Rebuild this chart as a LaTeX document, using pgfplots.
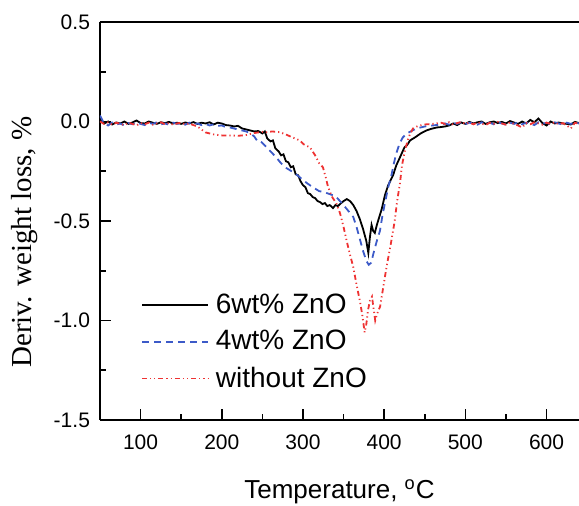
\documentclass[border=0pt]{standalone}
\usepackage{pgfplots}
\pgfplotsset{compat=1.18}
\usepackage{fontspec}
\setmainfont{Liberation Sans}
\newfontfamily\seriffont{Liberation Serif}
\usetikzlibrary{calc}
\definecolor{cblue}{RGB}{60,90,200}
\definecolor{cred}{RGB}{238,50,50}
\begin{document}
\begin{tikzpicture}
\begin{axis}[
  scale only axis, width=239.5pt, height=199pt,
  xmin=50, xmax=640, ymin=-1.5, ymax=0.5,
  axis x line*=box, axis y line*=left,
  xtick={100,200,...,600}, minor x tick num=1,
  ytick={-1.5,-1,...,0.5}, minor y tick num=1,
  xtick pos=bottom, ytick pos=left,
  tick align=inside, major tick length=5.5pt, minor tick length=3pt,
  axis line style={line width=0.9pt}, every tick/.style={line width=0.8pt, black},
  /pgf/number format/assume math mode=true,
  yticklabel style={/pgf/number format/fixed, /pgf/number format/fixed zerofill, /pgf/number format/precision=1, font=\fontsize{10.5}{12}\selectfont, xshift=-1.5pt},
  xticklabel style={font=\fontsize{10.5}{12}\selectfont, yshift=-4pt},
  xlabel={Temperature, \textsuperscript{o}C},
  xlabel style={font=\fontsize{13}{15}\selectfont, at={(axis description cs:0.5,-0.18)}, anchor=center},
  ylabel={\seriffont Deriv. weight loss, \%},
  ylabel style={font=\fontsize{14.5}{17}\selectfont, at={(axis description cs:-0.157,0.447)}, anchor=center},
  legend style={draw=none, fill=none, at={(axis description cs:0.085,0.328)}, anchor=north west, font=\fontsize{14}{16}\selectfont, row sep=3pt, inner sep=0pt,
    /tikz/every odd column/.append style={column sep=1.5pt}},
  legend cell align=left,
  legend image code/.code={\draw[#1] (0pt,0pt) -- (33pt,0pt);},
]
\addplot[black, line width=0.9pt] coordinates {
(50,0.01)(55,-0.01)(60,0.0)(65,-0.015)(70,-0.005)(75,-0.01)(80,0.0)(85,-0.012)(90,-0.005)(95,0.005)
(100,-0.008)(105,-0.01)(110,0.0)(115,-0.006)(120,-0.012)(125,-0.004)(130,-0.008)(135,-0.002)(140,-0.01)(145,-0.006)
(150,-0.012)(155,-0.005)(160,-0.01)(165,-0.003)(170,-0.012)(175,-0.006)(180,-0.01)(185,-0.004)(190,-0.015)(195,-0.006)
(200,-0.01)(205,-0.018)(210,-0.02)(215,-0.025)(220,-0.022)(225,-0.035)(230,-0.04)(235,-0.045)(240,-0.05)(245,-0.048)
(250,-0.06)(253,-0.05)(256,-0.085)(260,-0.1)(263,-0.095)(266,-0.135)(270,-0.15)(273,-0.17)(276,-0.165)(279,-0.2)
(282,-0.205)(285,-0.23)(288,-0.225)(291,-0.265)(294,-0.27)(297,-0.3)(300,-0.32)(303,-0.33)(306,-0.36)(309,-0.365)
(312,-0.38)(315,-0.385)(318,-0.40)(321,-0.405)(324,-0.415)(327,-0.41)(330,-0.425)(333,-0.42)(337,-0.435)(340,-0.42)
(343,-0.425)(347,-0.41)(350,-0.40)(354,-0.39)(358,-0.40)(362,-0.42)(366,-0.45)(370,-0.49)(374,-0.54)(378,-0.60)
(380.5,-0.66)(382.5,-0.58)(384.5,-0.52)(386.5,-0.55)(388.5,-0.56)(391,-0.52)(394,-0.48)(397,-0.44)(401,-0.37)(405,-0.32)
(411,-0.27)(415,-0.22)(419.5,-0.18)(425,-0.13)(428,-0.12)(432,-0.095)(438,-0.08)(445,-0.06)(452,-0.045)(458,-0.037)
(465,-0.03)(470,-0.028)(475,-0.025)
(480,-0.02)(485,-0.01)(490,-0.018)(495,-0.005)(500,-0.012)(505,-0.002)(510,-0.01)(515,-0.004)(520,0.0)(525,-0.012)
(530,-0.004)(535,0.0)(540,-0.008)(545,-0.002)(550,-0.01)(555,0.002)(560,-0.005)(565,-0.012)(570,0.0)(575,-0.01)
(580,0.008)(585,-0.004)(590,0.015)(595,-0.008)(600,-0.02)(605,0.0)(610,-0.01)(615,-0.005)(620,-0.01)(625,-0.012)
(630,-0.015)(635,-0.002)(640,-0.008)
};
\addlegendentry{6wt\% ZnO}
\addplot[cblue, line width=0.9pt, dash pattern=on 3.5pt off 2.5pt] coordinates {
(50,0.03)(55,-0.01)(60,-0.02)(65,-0.005)(70,-0.015)(75,-0.01)(80,-0.02)(85,-0.008)(90,-0.014)(95,-0.004)
(100,-0.012)(105,-0.018)(110,-0.006)(115,-0.012)(120,-0.004)(125,-0.014)(130,-0.01)(135,-0.016)(140,-0.006)(145,-0.012)
(150,-0.01)(155,-0.016)(160,-0.006)(165,-0.014)(170,-0.01)(175,-0.018)(180,-0.012)(185,-0.02)(190,-0.014)(195,-0.022)
(200,-0.02)(205,-0.028)(210,-0.03)(215,-0.035)(220,-0.04)(225,-0.045)(230,-0.05)(235,-0.06)(240,-0.075)(244,-0.1)
(248,-0.1)(253,-0.12)(260,-0.15)(267,-0.18)(273,-0.21)(280,-0.235)(290,-0.26)(299,-0.29)(305,-0.31)(312,-0.33)
(320,-0.35)(326,-0.355)(333,-0.365)(340,-0.375)(345.6,-0.40)(350,-0.42)(354,-0.44)(358,-0.46)(362,-0.48)(366,-0.53)
(370,-0.59)(374,-0.65)(378,-0.70)(381,-0.72)(384,-0.71)(387,-0.66)(391,-0.60)(394.8,-0.55)(398,-0.47)(402,-0.39)
(405,-0.33)(409,-0.27)(412,-0.21)(415,-0.16)(419,-0.11)(423,-0.08)(428,-0.06)(435,-0.045)(440,-0.035)(450,-0.025)
(460,-0.02)(470,-0.015)(475,-0.01)(480,-0.016)(485,-0.006)(490,-0.012)(495,-0.004)(500,-0.014)(505,-0.006)(510,-0.01)
(515,-0.016)(520,-0.004)(525,-0.012)(530,-0.006)(535,-0.014)(540,-0.004)(545,-0.01)(550,-0.016)(555,-0.006)(560,-0.012)
(565,-0.004)(570,-0.014)(575,-0.006)(580,-0.01)(585,-0.018)(590,-0.004)(595,-0.012)(600,-0.006)(605,-0.014)(610,-0.004)
(615,-0.01)(620,-0.016)(625,-0.006)(630,-0.012)(635,-0.004)(640,-0.01)
};
\addlegendentry{4wt\% ZnO}
\addplot[cred, line width=0.9pt, dash pattern=on 2.5pt off 1.5pt on 0.6pt off 1.5pt on 0.6pt off 1.5pt] coordinates {
(50,0.0)(55,-0.012)(60,-0.004)(65,-0.016)(70,-0.006)(75,-0.012)(80,-0.018)(85,-0.006)(90,-0.012)(95,-0.02)
(100,-0.008)(105,-0.014)(110,-0.006)(115,-0.016)(120,-0.01)(125,-0.004)(130,-0.014)(135,-0.008)(140,-0.016)(145,-0.01)
(150,-0.006)(155,-0.014)(160,-0.01)(165,-0.018)(170,-0.025)(175,-0.04)(180,-0.055)(185,-0.06)(190,-0.065)(200,-0.07)
(210,-0.07)(220,-0.072)(230,-0.068)(240,-0.058)(250,-0.052)(255,-0.054)(262,-0.05)(271.7,-0.054)(280,-0.067)(287,-0.08)
(296,-0.095)(301,-0.115)(308.6,-0.13)(315,-0.17)(320,-0.21)(324.6,-0.23)(328,-0.28)(331,-0.33)(336,-0.38)(341,-0.41)
(345.6,-0.46)(350,-0.53)(353.8,-0.60)(358,-0.67)(361.9,-0.73)(366,-0.82)(370,-0.90)(373,-0.97)(376,-1.06)(378,-1.02)
(380,-0.95)(382.5,-0.90)(385,-0.88)(387,-0.94)(389,-1.0)(391,-0.97)(395,-0.93)(399,-0.83)(403,-0.73)(408,-0.62)
(413,-0.50)(416,-0.40)(419.5,-0.31)(422,-0.22)(425.6,-0.146)(430,-0.08)(435.5,-0.035)(442,-0.022)(450,-0.015)(460,-0.012)
(470,-0.006)(475,-0.012)(480,-0.004)(485,-0.016)(490,-0.008)(495,-0.002)(500,-0.012)(505,-0.006)(510,-0.014)(515,-0.004)
(520,-0.01)(525,-0.018)(530,-0.006)(535,-0.012)(540,-0.002)(545,-0.01)(550,-0.016)(555,-0.004)(560,-0.012)(565,-0.02)
(570,-0.03)(575,-0.008)(580,-0.014)(585,-0.004)(590,-0.01)(595,-0.016)(600,-0.006)(605,-0.012)(610,-0.004)(615,-0.014)
(620,-0.008)(625,-0.02)(630,-0.035)(635,-0.006)(640,-0.012)
};
\addlegendentry{without ZnO}
\end{axis}
\pgfresetboundingbox
\useasboundingbox ($(current axis.south west)+(-50pt,-43pt)$) rectangle ($(current axis.north east)+(0pt,11pt)$);
\end{tikzpicture}
\end{document}
